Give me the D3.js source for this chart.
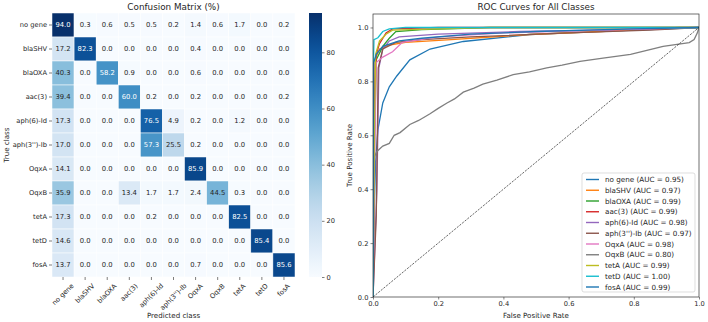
<!DOCTYPE html>
<html>
<head>
<meta charset="utf-8">
<script src="https://cdn.jsdelivr.net/npm/d3@7"></script>
<style>
  body { margin: 0; background: #fff; }
  svg text { font-family: "DejaVu Sans", sans-serif; fill: #262626; }
</style>
</head>
<body>
<div id="content"></div>
<script>
// Clases y matriz de confusion (%)
const classes = ['no gene', 'blaSHV', 'blaOXA', 'aac(3)', 'aph(6)-Id', "aph(3'')-Ib",
                 'OqxA', 'OqxB', 'tetA', 'tetD', 'fosA'];
const matrix = [
  [94.0, 0.3, 0.6, 0.5, 0.5, 0.2, 1.4, 0.6, 1.7, 0.0, 0.2],
  [17.2, 82.3, 0.0, 0.0, 0.0, 0.0, 0.4, 0.0, 0.0, 0.0, 0.0],
  [40.3, 0.0, 58.2, 0.9, 0.0, 0.0, 0.6, 0.0, 0.0, 0.0, 0.0],
  [39.4, 0.0, 0.0, 60.0, 0.2, 0.0, 0.2, 0.0, 0.0, 0.0, 0.2],
  [17.3, 0.0, 0.0, 0.0, 76.5, 4.9, 0.2, 0.0, 1.2, 0.0, 0.0],
  [17.0, 0.0, 0.0, 0.0, 57.3, 25.5, 0.2, 0.0, 0.0, 0.0, 0.0],
  [14.1, 0.0, 0.0, 0.0, 0.0, 0.0, 85.9, 0.0, 0.0, 0.0, 0.0],
  [35.9, 0.0, 0.0, 13.4, 1.7, 1.7, 2.4, 44.5, 0.3, 0.0, 0.0],
  [17.3, 0.0, 0.0, 0.0, 0.2, 0.0, 0.0, 0.0, 82.5, 0.0, 0.0],
  [14.6, 0.0, 0.0, 0.0, 0.0, 0.0, 0.0, 0.0, 0.0, 85.4, 0.0],
  [13.7, 0.0, 0.0, 0.0, 0.0, 0.0, 0.7, 0.0, 0.0, 0.0, 85.6]
];
const colorbarTicks = [0, 20, 40, 60, 80];

// Curvas ROC: [fpr, tpr]
const aucValues = [0.95, 0.97, 0.99, 0.99, 0.98, 0.97, 0.98, 0.80, 0.99, 1.00, 0.99];
const rocNoGene = [[0,0],[0.003,0.3],[0.008,0.5],[0.015,0.62],[0.03,0.72],[0.05,0.78],[0.073,0.82],[0.113,0.88],[0.175,0.92],[0.277,0.948],[0.48,0.974],[0.69,0.985],[1,1]];
const rocBlaSHV = [[0,0],[0.003,0.5],[0.006,0.88],[0.02,0.92],[0.05,0.935],[0.1,0.945],[0.24,0.955],[0.48,0.974],[0.7,0.985],[0.94,1],[1,1]];
const rocBlaOXA = [[0,0],[0.005,0.6],[0.01,0.88],[0.03,0.93],[0.05,0.96],[0.07,0.985],[0.15,0.992],[0.36,1],[1,1]];
const rocAac3 = [[0,0],[0.005,0.7],[0.01,0.9],[0.02,0.94],[0.04,0.98],[0.06,0.995],[0.2,1],[1,1]];
const rocAph6 = [[0,0],[0.012,0.4],[0.018,0.85],[0.03,0.92],[0.05,0.95],[0.08,0.965],[0.2,0.975],[0.45,0.985],[0.7,0.99],[1,1]];
const rocAph3 = [[0,0],[0.01,0.3],[0.016,0.85],[0.03,0.92],[0.07,0.945],[0.15,0.955],[0.3,0.965],[0.6,0.98],[0.85,0.99],[1,1]];
const rocOqxA = [[0,0],[0.005,0.5],[0.01,0.87],[0.03,0.89],[0.06,0.91],[0.09,0.945],[0.2,0.965],[0.4,0.98],[0.7,0.99],[1,1]];
const rocOqxB = [[0,0],[0.004,0.52],[0.012,0.54],[0.03,0.56],[0.05,0.57],[0.065,0.6],[0.083,0.61],[0.113,0.64],[0.14,0.655],[0.175,0.68],[0.2,0.7],[0.227,0.72],[0.25,0.735],[0.277,0.76],[0.31,0.775],[0.337,0.79],[0.38,0.805],[0.43,0.825],[0.48,0.835],[0.533,0.85],[0.58,0.86],[0.635,0.874],[0.7,0.885],[0.79,0.9],[0.84,0.915],[0.89,0.93],[0.97,0.944],[0.985,0.955],[0.995,0.98],[1,1]];
const rocTetA = [[0,0],[0.004,0.6],[0.008,0.9],[0.02,0.95],[0.04,0.975],[0.06,0.99],[0.2,0.995],[0.35,1],[1,1]];
const rocTetD = [[0,0],[0.001,0.85],[0.003,0.955],[0.015,0.962],[0.03,0.985],[0.05,0.995],[0.1,1],[1,1]];
const rocFosA = [[0,0],[0.002,0.87],[0.01,0.9],[0.03,0.93],[0.08,0.95],[0.15,0.96],[0.3,0.975],[0.5,0.985],[0.8,0.995],[1,1]];
const rocCurves = [rocNoGene, rocBlaSHV, rocBlaOXA, rocAac3, rocAph6, rocAph3, rocOqxA, rocOqxB, rocTetA, rocTetD, rocFosA];
const rocTicks = [0, 0.2, 0.4, 0.6, 0.8, 1.0];

const tab10 = ['#1f77b4', '#ff7f0e', '#2ca02c', '#d62728', '#9467bd', '#8c564b',
               '#e377c2', '#7f7f7f', '#bcbd22', '#17becf'];

const svg = d3.select('#content').append('svg')
    .attr('width', 708).attr('height', 322);

// Rota una etiqueta 45 grados y la centra bajo su marca (como matplotlib ha='center')
const rotatedLabel = (g, text, x, top, size) => {
    const t = g.append('text')
        .attr('font-size', size)
        .attr('text-anchor', 'end')
        .attr('transform', 'rotate(-45)')
        .text(text);
    const svgB = svg.node().getBoundingClientRect();
    const b = t.node().getBoundingClientRect();
    const dx = x - (b.left - svgB.left + b.width / 2);
    const dy = top - (b.top - svgB.top);
    t.attr('transform', `translate(${dx},${dy}) rotate(-45)`);
};

// ---------------- Matriz de confusion ----------------
const hm = { left: 52, top: 13, right: 295, bottom: 277 };
const xBand = d3.scaleBand().domain(d3.range(classes.length)).range([hm.left, hm.right]);
const yBand = d3.scaleBand().domain(d3.range(classes.length)).range([hm.top, hm.bottom]);
const vmax = d3.max(matrix.flat());
const color = d3.scaleSequential(d3.interpolateBlues).domain([0, vmax]);

const lum = c => {
    const rgb = d3.rgb(c);
    const f = v => { v /= 255; return v <= 0.03928 ? v / 12.92 : Math.pow((v + 0.055) / 1.055, 2.4); };
    return 0.2126 * f(rgb.r) + 0.7152 * f(rgb.g) + 0.0722 * f(rgb.b);
};

const cells = matrix.flatMap((row, i) => row.map((v, j) => ({ i, j, v })));
const cm = svg.append('g');
cm.selectAll('rect').data(cells).enter().append('rect')
    .attr('x', d => xBand(d.j))
    .attr('y', d => yBand(d.i))
    .attr('width', xBand.bandwidth())
    .attr('height', yBand.bandwidth())
    .attr('fill', d => color(d.v))
    .attr('stroke', '#fff')
    .attr('stroke-width', 0.5);
cm.selectAll('text.ann').data(cells).enter().append('text')
    .attr('class', 'ann')
    .attr('x', d => xBand(d.j) + xBand.bandwidth() / 2)
    .attr('y', d => yBand(d.i) + yBand.bandwidth() / 2)
    .attr('text-anchor', 'middle')
    .attr('dominant-baseline', 'central')
    .attr('font-size', 6.8)
    .style('fill', d => lum(color(d.v)) > 0.408 ? '#262626' : '#ffffff')
    .text(d => d.v.toFixed(1));

// Etiquetas del eje Y
classes.forEach((c, i) => {
    const y = yBand(i) + yBand.bandwidth() / 2;
    cm.append('line').attr('x1', hm.left - 3).attr('x2', hm.left).attr('y1', y).attr('y2', y)
        .attr('stroke', '#262626').attr('stroke-width', 0.6);
    cm.append('text').attr('x', hm.left - 5).attr('y', y)
        .attr('text-anchor', 'end').attr('dominant-baseline', 'central')
        .attr('font-size', 6.7).text(c);
});
// Etiquetas del eje X
classes.forEach((c, j) => {
    const x = xBand(j) + xBand.bandwidth() / 2;
    cm.append('line').attr('x1', x).attr('x2', x).attr('y1', hm.bottom).attr('y2', hm.bottom + 3)
        .attr('stroke', '#262626').attr('stroke-width', 0.6);
    rotatedLabel(cm, c, x, hm.bottom + 5, 6.7);
});

cm.append('text').attr('x', (hm.left + hm.right) / 2).attr('y', 10)
    .attr('text-anchor', 'middle').attr('font-size', 8.8).text('Confusion Matrix (%)');
cm.append('text').attr('x', (hm.left + hm.right) / 2).attr('y', 318)
    .attr('text-anchor', 'middle').attr('font-size', 7.1).text('Predicted class');
cm.append('text').attr('transform', `translate(9,${(hm.top + hm.bottom) / 2}) rotate(-90)`)
    .attr('text-anchor', 'middle').attr('font-size', 7.1).text('True class');

// Barra de color
const cb = { left: 309, width: 13, top: 13, bottom: 277 };
const cbScale = d3.scaleLinear().domain([0, vmax]).range([cb.bottom, cb.top]);
const defs = svg.append('defs');
const grad = defs.append('linearGradient').attr('id', 'cbgrad')
    .attr('x1', 0).attr('y1', 1).attr('x2', 0).attr('y2', 0);
d3.range(0, 1.001, 0.05).forEach(t => {
    grad.append('stop').attr('offset', t).attr('stop-color', d3.interpolateBlues(t));
});
svg.append('rect').attr('x', cb.left).attr('y', cb.top).attr('width', cb.width)
    .attr('height', cb.bottom - cb.top).attr('fill', 'url(#cbgrad)');
const cbAxis = svg.append('g').attr('transform', `translate(${cb.left + cb.width},0)`)
    .call(d3.axisRight(cbScale).tickValues(colorbarTicks).tickSize(2.5).tickPadding(2));
cbAxis.select('.domain').remove();
cbAxis.selectAll('line').attr('stroke', '#262626').attr('stroke-width', 0.6);
cbAxis.selectAll('text').attr('font-size', 6.7).attr('font-family', 'DejaVu Sans');

// ---------------- Curvas ROC ----------------
const roc = { left: 373, right: 699, top: 14, bottom: 297 };
const xScale = d3.scaleLinear().domain([0, 1]).range([roc.left, roc.right]);
const yScale = d3.scaleLinear().domain([0, 1.05]).range([roc.bottom, roc.top]);
const rg = svg.append('g');

rg.append('clipPath').attr('id', 'rocclip').append('rect')
    .attr('x', roc.left).attr('y', roc.top)
    .attr('width', roc.right - roc.left).attr('height', roc.bottom - roc.top);

const line = d3.line().x(d => xScale(d[0])).y(d => yScale(d[1]));
const plot = rg.append('g').attr('clip-path', 'url(#rocclip)');
rocCurves.forEach((pts, i) => {
    plot.append('path').datum(pts)
        .attr('d', line)
        .attr('fill', 'none')
        .attr('stroke', tab10[i % 10])
        .attr('stroke-width', 1.3);
});
plot.append('path').datum([[0, 0], [1, 1]])
    .attr('d', line).attr('fill', 'none')
    .attr('stroke', '#000').attr('stroke-width', 0.6)
    .attr('stroke-dasharray', '2.2,1.2');

const xAxis = rg.append('g').attr('transform', `translate(0,${roc.bottom})`)
    .call(d3.axisBottom(xScale).tickValues(rocTicks).tickFormat(d3.format('.1f')).tickSize(2.5).tickPadding(2));
const yAxis = rg.append('g').attr('transform', `translate(${roc.left},0)`)
    .call(d3.axisLeft(yScale).tickValues(rocTicks).tickFormat(d3.format('.1f')).tickSize(2.5).tickPadding(2));
[xAxis, yAxis].forEach(a => {
    a.select('.domain').remove();
    a.selectAll('line').attr('stroke', '#333').attr('stroke-width', 0.6);
    a.selectAll('text').attr('font-size', 6.7).attr('font-family', 'DejaVu Sans');
});
rg.append('rect').attr('x', roc.left).attr('y', roc.top)
    .attr('width', roc.right - roc.left).attr('height', roc.bottom - roc.top)
    .attr('fill', 'none').attr('stroke', '#333').attr('stroke-width', 0.7);

rg.append('text').attr('x', (roc.left + roc.right) / 2).attr('y', 10)
    .attr('text-anchor', 'middle').attr('font-size', 8.8).text('ROC Curves for All Classes');
rg.append('text').attr('x', (roc.left + roc.right) / 2).attr('y', 318)
    .attr('text-anchor', 'middle').attr('font-size', 7.1).text('False Positive Rate');
rg.append('text').attr('transform', `translate(352,${(roc.top + roc.bottom) / 2}) rotate(-90)`)
    .attr('text-anchor', 'middle').attr('font-size', 7.1).text('True Positive Rate');

// Leyenda
const leg = { left: 582, top: 173, width: 113, height: 119, step: 10.75 };
rg.append('rect').attr('x', leg.left).attr('y', leg.top)
    .attr('width', leg.width).attr('height', leg.height)
    .attr('rx', 2).attr('fill', 'rgba(255,255,255,0.8)')
    .attr('stroke', '#d0d0d0').attr('stroke-width', 0.7);
classes.forEach((c, i) => {
    const y = leg.top + 6.5 + i * leg.step;
    rg.append('line').attr('x1', leg.left + 4).attr('x2', leg.left + 17)
        .attr('y1', y).attr('y2', y)
        .attr('stroke', tab10[i % 10]).attr('stroke-width', 1.4);
    rg.append('text').attr('x', leg.left + 23).attr('y', y)
        .attr('dominant-baseline', 'central').attr('font-size', 7.2)
        .text(`${c} (AUC = ${aucValues[i].toFixed(2)})`);
});
</script>
</body>
</html>
